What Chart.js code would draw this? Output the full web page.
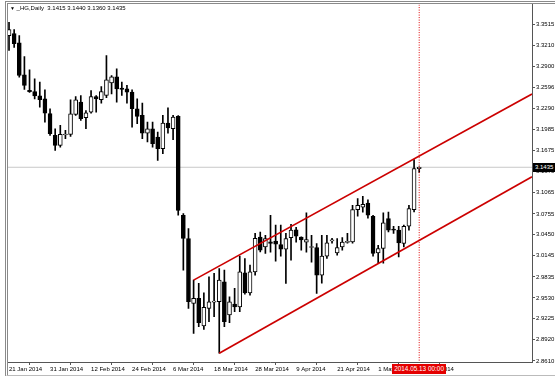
<!doctype html>
<html>
<head>
<meta charset="utf-8">
<title>_HG,Daily</title>
<script src="https://cdn.jsdelivr.net/npm/chart.js@4.4.1/dist/chart.umd.min.js"></script>
<style>
    html, body { margin: 0; padding: 0; background: #fff; }
    #wrap { position: relative; width: 555px; height: 378px; overflow: hidden; }
    #frame {
        position: absolute; left: 5px; top: 1px; right: 0; bottom: 2px;
        border-left: 3px double #8a8a8a; border-top: 3px double #8a8a8a;
        border-bottom: 1px solid #bbb; pointer-events: none;
    }
    #title {
        position: absolute; left: 10px; top: 5px; white-space: pre;
        font: 6px "Liberation Sans", Arial, sans-serif; color: #000;
    }
    #title .arrow { font-size: 5px; }
    #price {
        position: absolute; background: #000; color: #fff; padding: 0 2px;
        font: 6px "Liberation Sans", Arial, sans-serif; line-height: 9px;
    }
    #date {
        position: absolute; background: #e40000; color: #fff; padding: 0 2px;
        font: 6.4px "Liberation Sans", Arial, sans-serif; line-height: 10px; white-space: nowrap;
    }
</style>
</head>
<body>
<div id="wrap">
    <canvas id="c" width="555" height="378"></canvas>
    <div id="frame"></div>
    <div id="title"><span class="arrow">▼</span> _HG,Daily  3.1415 3.1440 3.1360 3.1435</div>
    <div id="price">3.1435</div>
    <div id="date">2014.05.13 00:00</div>
</div>
<script>
    // daily bars, 21 Jan 2014 .. 13 May 2014 (index 0..80)
    var opens = [3.3355, 3.3384, 3.3249, 3.2783, 3.2555, 3.2540, 3.2477, 3.2433, 3.2216, 3.1899,
        3.1754, 3.1905, 3.1914, 3.2205, 3.2384, 3.2157, 3.2238, 3.2467, 3.2419, 3.2482,
        3.2666, 3.2753, 3.2590, 3.2579, 3.2531, 3.2288, 3.2191, 3.1932, 3.1997, 3.1875,
        3.1705, 3.2079, 3.1997, 3.2176, 3.0735, 3.0396, 2.9450, 2.9523, 2.9120, 2.9377,
        2.9468, 2.9473, 2.9764, 2.9280, 2.9440, 2.9400, 2.9894, 2.9604, 2.9910, 3.0415,
        3.0274, 3.0347, 3.0357, 3.0306, 3.0240, 3.0408, 3.0524, 3.0415, 3.0342, 3.0265,
        3.0265, 2.9862, 3.0138, 3.0361, 3.0186, 3.0274, 3.0339, 3.0347, 3.0818, 3.0852,
        3.0914, 3.0721, 3.0186, 3.0250, 3.0687, 3.0524, 3.0517, 3.0323, 3.0575, 3.0818,
        3.1415];
    var highs = [3.3549, 3.3443, 3.3355, 3.3048, 3.2856, 3.2725, 3.2676, 3.2565, 3.2288, 3.1997,
        3.2045, 3.1972, 3.2419, 3.2467, 3.2482, 3.2263, 3.2554, 3.2482, 3.2613, 3.3064,
        3.2773, 3.2870, 3.2676, 3.2628, 3.2565, 3.2433, 3.2370, 3.2093, 3.2093, 3.1948,
        3.2191, 3.2303, 3.2191, 3.2190, 3.0760, 3.0542, 2.9789, 2.9741, 2.9604, 2.9837,
        2.9887, 2.9959, 2.9935, 2.9546, 2.9668, 3.0138, 3.0104, 3.0007, 3.0473, 3.0488,
        3.0444, 3.0735, 3.0590, 3.0590, 3.0473, 3.0604, 3.0560, 3.0419, 3.0772, 3.0444,
        3.0323, 3.0444, 3.0444, 3.0400, 3.0396, 3.0410, 3.0473, 3.0881, 3.0978, 3.1012,
        3.0961, 3.0735, 3.0298, 3.0769, 3.0783, 3.0575, 3.0575, 3.0590, 3.0881, 3.1546,
        3.1440];
    var lows = [3.3137, 3.3181, 3.2748, 3.2569, 3.2526, 3.2433, 3.2312, 3.2093, 3.1899, 3.1681,
        3.1729, 3.1852, 3.1885, 3.2191, 3.2118, 3.1997, 3.2224, 3.2238, 3.2370, 3.2448,
        3.2506, 3.2384, 3.2482, 3.2370, 3.2021, 3.2069, 3.1852, 3.1803, 3.1729, 3.1536,
        3.1633, 3.1932, 3.1837, 3.0735, 2.9935, 2.9377, 2.9013, 2.9109, 2.9071, 2.9182,
        2.9255, 2.8722, 2.9109, 2.9168, 2.9328, 2.9328, 2.9585, 2.9571, 2.9862, 3.0201,
        3.0178, 3.0197, 3.0066, 3.0138, 2.9741, 3.0080, 3.0342, 3.0226, 3.0197, 3.0051,
        2.9595, 2.9745, 3.0105, 3.0327, 3.0153, 3.0226, 3.0327, 3.0327, 3.0721, 3.0779,
        3.0692, 3.0138, 3.0032, 3.0036, 3.0492, 3.0469, 3.0128, 3.0274, 3.0517, 3.0783,
        3.1360];
    var closes = [3.3443, 3.3239, 3.2773, 3.2628, 3.2538, 3.2477, 3.2419, 3.2224, 3.1924, 3.1754,
        3.1914, 3.1915, 3.2215, 3.2419, 3.2143, 3.2230, 3.2467, 3.2433, 3.2540, 3.2711,
        3.2753, 3.2579, 3.2569, 3.2531, 3.2288, 3.2176, 3.1932, 3.1997, 3.1778, 3.1705,
        3.2079, 3.2010, 3.2166, 3.0807, 3.0396, 2.9473, 2.9523, 2.9168, 2.9392, 2.9473,
        2.9478, 2.9789, 2.9182, 2.9473, 2.9400, 2.9910, 2.9604, 2.9910, 3.0400, 3.0226,
        3.0396, 3.0323, 3.0313, 3.0240, 3.0396, 3.0517, 3.0430, 3.0376, 3.0379, 3.0270,
        2.9862, 3.0138, 3.0332, 3.0366, 3.0265, 3.0342, 3.0349, 3.0818, 3.0881, 3.0895,
        3.0735, 3.0178, 3.0250, 3.0623, 3.0517, 3.0517, 3.0332, 3.0575, 3.0833, 3.1415,
        3.1435];

    var dateBars = [0, 8, 16, 24, 32, 40, 48, 56, 64, 72, 80];
    var dateLabels = ['21 Jan 2014', '31 Jan 2014', '12 Feb 2014', '24 Feb 2014', '6 Mar 2014',
        '18 Mar 2014', '28 Mar 2014', '9 Apr 2014', '21 Apr 2014', '1 May 2014', '13 May 2014'];
    var priceTicks = [3.3515, 3.3210, 3.2900, 3.2596, 3.2290, 3.1985, 3.1675, 3.1370, 3.1065,
        3.0755, 3.0450, 3.0145, 2.9835, 2.9530, 2.9225, 2.8920, 2.8610];

    // channel lines (bar index, price)
    var upperX = [36, 102], upperY = [2.9789, 3.2504];
    var lowerX = [41, 102], lowerY = [2.8722, 3.1297];

    var cursorBar = 80;
    var lastPrice = closes[closes.length - 1];
    var xMin = -0.2, xMax = 102, yMin = 2.8595, yMax = 3.3807;

    var font = { family: 'Liberation Sans', size: 6 };
    var wicks = [], bodies = [], bodyColors = [];
    opens.forEach(function(o, i) {
        wicks.push({ x: i, y: [lows[i], highs[i]] });
        bodies.push({ x: i, y: [o, closes[i]] });
        bodyColors.push(closes[i] >= o ? '#ffffff' : '#000000');
    });
    function pts(xs, ys) {
        return xs.map(function(x, i) { return { x: x, y: ys[i] }; });
    }

    var overlay = {
        id: 'overlay',
        afterDraw: function(chart) {
            var sx = chart.scales.x, sy = chart.scales.y;
            var $p = document.getElementById('price');
            $p.style.left = (sx.right + 1) + 'px';
            $p.style.top = (sy.getPixelForValue(lastPrice) - 4.5) + 'px';
            var $d = document.getElementById('date');
            $d.style.left = (sx.getPixelForValue(cursorBar) - $d.offsetWidth / 2) + 'px';
            $d.style.top = (sx.top + 2) + 'px';
        }
    };

    new Chart(document.getElementById('c'), {
        type: 'bar',
        data: {
            datasets: [
                { type: 'line', data: pts(upperX, upperY), borderColor: '#cc0000', borderWidth: 1.7, pointRadius: 0, order: 0 },
                { type: 'line', data: pts(lowerX, lowerY), borderColor: '#cc0000', borderWidth: 1.7, pointRadius: 0, order: 0 },
                { type: 'line', data: [{ x: cursorBar, y: yMax }, { x: cursorBar, y: yMin }], borderColor: '#dd0000', borderWidth: 1, borderDash: [1, 1.5], pointRadius: 0, order: 0 },
                { data: bodies, backgroundColor: bodyColors, borderColor: '#000', borderWidth: 1, borderSkipped: false, barThickness: 4, minBarLength: 1, grouped: false, order: 1 },
                { data: wicks, backgroundColor: '#000', borderWidth: 0, barThickness: 1, grouped: false, order: 2 },
                { type: 'line', data: [{ x: xMin, y: lastPrice }, { x: xMax, y: lastPrice }], borderColor: '#c8c8c8', borderWidth: 1, pointRadius: 0, order: 3 }
            ]
        },
        options: {
            responsive: false,
            animation: false,
            layout: { padding: { left: 8, top: 4, right: 0, bottom: 0 } },
            plugins: { legend: { display: false }, tooltip: { enabled: false }, title: { display: false } },
            scales: {
                x: {
                    type: 'linear', min: xMin, max: xMax, offset: false,
                    grid: { drawOnChartArea: false, tickLength: 3, color: '#555' },
                    border: { color: '#555' },
                    afterBuildTicks: function(s) { s.ticks = dateBars.map(function(v) { return { value: v }; }); },
                    ticks: {
                        autoSkip: false, maxRotation: 0, align: 'start', padding: 1, font: font, color: '#000',
                        callback: function(v, i) { return dateLabels[i]; }
                    },
                    afterFit: function(s) { s.height = 16; }
                },
                y: {
                    position: 'right', min: yMin, max: yMax,
                    grid: { drawOnChartArea: false, tickLength: 3, color: '#555' },
                    border: { color: '#555' },
                    afterBuildTicks: function(s) { s.ticks = priceTicks.map(function(v) { return { value: v }; }); },
                    ticks: { padding: 1, font: font, color: '#000', callback: function(v) { return v.toFixed(4); } },
                    afterFit: function(s) { s.width = 23; }
                }
            }
        },
        plugins: [overlay]
    });
</script>
</body>
</html>
